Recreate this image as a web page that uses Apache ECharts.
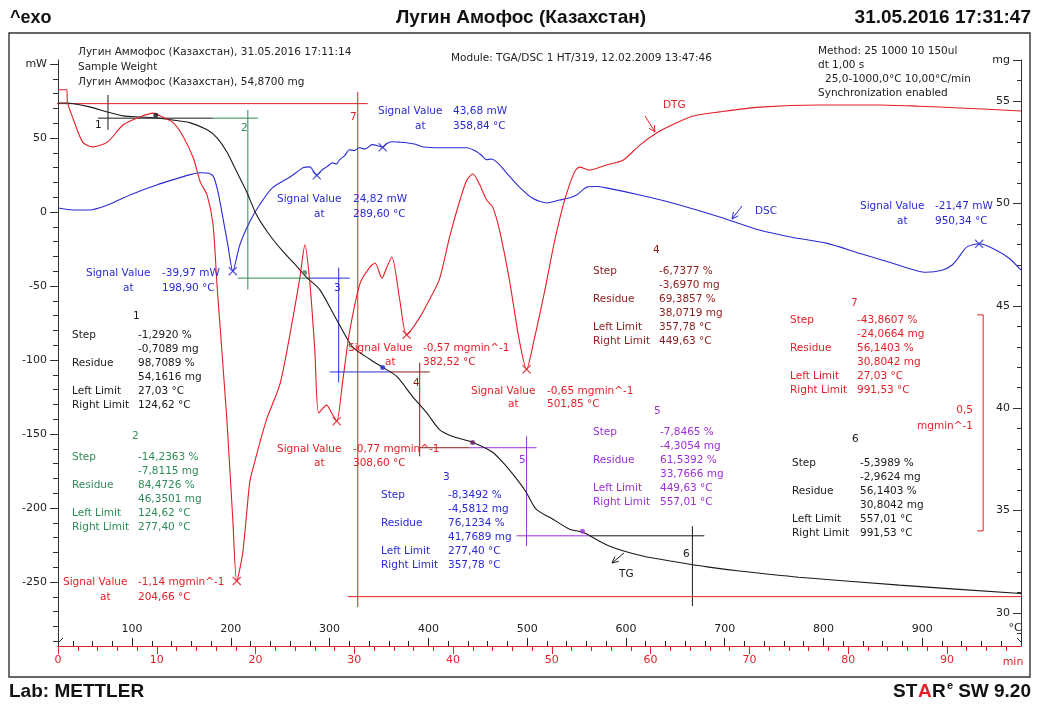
<!DOCTYPE html>
<html><head><meta charset="utf-8">
<script src="https://cdn.jsdelivr.net/npm/echarts@6/dist/echarts.min.js"></script>
<style>html,body{margin:0;padding:0;background:#fff}#c{width:1039px;height:704px}</style>
</head><body><div id="c"></div>
<script>
// ---------- axis ticks / labels ----------
const tempTicks = [100, 200, 300, 400, 500, 600, 700, 800, 900];
const timeTicks = [0, 10, 20, 30, 40, 50, 60, 70, 80, 90];
const mwTicks = [-250, -200, -150, -100, -50, 0, 50, 100];
const mgTicks = [30, 35, 40, 45, 50, 55, 57];
const tempMinor = [], timeMinor = [], mwMinor = [], mgMinor = [];
for (let v = 40; v <= 980; v += 20) if (v % 100) tempMinor.push(v);
for (let v = 2; v <= 96; v += 2) if (v % 10) timeMinor.push(v);
for (let v = -290; v <= 90; v += 10) if (v % 50) mwMinor.push(v);
for (let v = 29; v <= 56; v += 1) if (v % 5) mgMinor.push(v);

// ---------- curves: [temperature °C, value] ----------
const dsc = [[25,2.7],[40,1.4],[57,1.4],[75,4.7],[91,9.5],[108,14.2],[125,18.3],[141,21.7],[158,25.1],[169,26.5],[176,26.4],[182,24.4],[187,13.6],[192,-4.1],[197,-22.4],[202,-39.97],[209,-22.4],[219,-6.8],[229,4.7],[242,16.3],[260,23.7],[266,26.5],[273,29.9],[280,30.5],[287,24.82],[293,28.9],[297,30.5],[303,33.2],[307,32.5],[310,35.3],[315,37.9],[320,42.1],[325,41.5],[330,43.4],[336,42.6],[343,45.5],[348,44.9],[353.7,43.68],[358,46.3],[363,47.5],[370,47.2],[378,46.8],[386,45.9],[394,44.1],[402,43.6],[411,43.4],[425,43.4],[439,43.4],[449,40.7],[454,38.2],[459,35.3],[464,35.8],[469,33.9],[474,30.5],[479,26.5],[492,17.0],[505,9.5],[520,6.1],[533,8.1],[543,9.6],[550,11.5],[556,14.8],[561,17.0],[570,17.2],[580,16.3],[614,11.5],[647,6.1],[695,-3.4],[735,-12.2],[768,-17.0],[803,-21.0],[836,-27.8],[870,-34.6],[904,-40.7],[920,-39.3],[930,-36.0],[937,-30.5],[945,-23.7],[957.6,-21.47],[971,-24.4],[988,-31.2],[1000,-39.3]];
const tg = [[25,54.9],[34,54.9],[57,54.71],[75,54.46],[91,54.27],[108,54.22],[125,54.17],[141,54.07],[159,53.93],[176,53.59],[186,53.2],[196,52.51],[206,51.54],[216,50.57],[226,49.44],[239,48.47],[253,47.64],[267,46.91],[277,46.37],[290,45.79],[307,44.33],[323,43.01],[341,42.38],[354,41.99],[368,41.55],[384,40.57],[398,39.8],[411,38.97],[424,38.63],[445,38.33],[465,37.85],[479,37.16],[492,36.38],[499,35.9],[509,35.07],[526,34.58],[543,34.09],[556,33.95],[583,33.27],[617,32.78],[651,32.49],[684,32.24],[715,32.05],[775,31.75],[877,31.36],[1000,30.95]];
const dtg = [[25,-0.003],[34,-0.003],[34.5,-0.031],[40,-0.068],[50,-0.124],[60,-0.135],[75,-0.124],[91,-0.084],[108,-0.066],[121,-0.057],[131,-0.066],[141,-0.078],[151,-0.108],[162,-0.161],[169,-0.216],[176,-0.247],[182,-0.316],[186,-0.455],[196,-0.767],[202,-0.999],[206,-1.14],[212,-1.075],[219,-0.913],[222,-0.883],[236,-0.767],[250,-0.682],[263,-0.529],[270,-0.436],[275,-0.362],[280,-0.45],[285,-0.605],[289,-0.751],[297,-0.733],[302,-0.751],[307.2,-0.77],[313,-0.682],[320,-0.566],[331,-0.45],[341,-0.413],[346,-0.404],[353,-0.439],[358,-0.413],[363,-0.39],[371,-0.489],[378,-0.57],[391,-0.531],[401,-0.489],[411,-0.443],[422,-0.339],[432,-0.258],[439,-0.212],[445,-0.198],[452,-0.223],[459,-0.258],[465,-0.274],[472,-0.328],[482,-0.443],[492,-0.582],[499.4,-0.65],[507,-0.582],[518,-0.466],[528,-0.351],[538,-0.258],[548,-0.193],[553,-0.182],[563,-0.189],[580,-0.177],[597,-0.166],[614,-0.131],[631,-0.103],[647,-0.084],[667,-0.064],[695,-0.054],[735,-0.043],[796,-0.038],[857,-0.038],[897,-0.041],[938,-0.045],[1000,-0.052]];

// ---------- evaluated points ----------
const dscPeaks = [[202,-39.97],[287,24.82],[353.7,43.68],[957.6,-21.47]];
const dtgPeaks = [[206,-1.14],[307.2,-0.77],[378,-0.57],[499.4,-0.65]];
const stepDotsBlack = [[124,54.3]];
const stepDotsGreen = [[274.8,46.62]];
const stepDotsBlue = [[353.7,41.99]];
const stepDotsMaroon = [[444.8,38.33]];
const stepDotsPurple = [[556,33.99]];

// ---------- step construction lines (T °C, mg) ----------
const step1Segs = [[[65.5,54.16],[181.8,54.16]], [[75.6,55.29],[75.6,53.59]]];
const step2Segs = [[[181.8,54.16],[227.3,54.16]], [[217.2,54.56],[217.2,45.79]], [[207.1,46.35],[279.9,46.35]]];
const step3Segs = [[[279.9,46.35],[320.4,46.35]], [[309.2,46.86],[309.2,41.26]], [[300.1,41.77],[360.8,41.77]]];
const step4Segs = [[[360.8,41.77],[401.3,41.77]], [[391.2,42.23],[391.2,37.65]], [[391.2,38.07],[441.7,38.07]]];
const step5Segs = [[[441.7,38.07],[509.5,38.07]], [[499.4,38.63],[499.4,33.27]], [[489.3,33.77],[563.1,33.77]]];
const step6Segs = [[[563.1,33.77],[679.4,33.77]], [[667.3,34.24],[667.3,30.34]]];
const step7Segs = [[[14.9,54.87],[338.6,54.87]], [[328.5,55.44],[328.5,30.29]], [[318.3,30.8],[1001,30.8]]];
const dtgScaleBar = [[955.6,-0.524],[961.7,-0.524],[961.7,-1.024],[955.6,-1.024]];

// ---------- colors / fonts ----------
const RED = '#e41e26', BLUE = '#2a2ad4', GREEN = '#2e8b57', PURPLE = '#9b30d9', MAROON = '#8e1b1b', BLACK = '#1a1a1a';
const FONT = '"DejaVu Sans", Verdana, sans-serif';
const HFONT = '"Liberation Sans", Arial, sans-serif';

const series = [];
function segs(list, color, yIdx) {
  list.forEach(p => series.push({type:'line', xAxisIndex:0, yAxisIndex:yIdx, data:p, symbol:'none', showSymbol:false,
    clip:false, silent:true, animation:false, lineStyle:{color, width:1}, z:3}));
}
segs(step1Segs, BLACK, 2); segs(step2Segs, GREEN, 2); segs(step3Segs, BLUE, 2);
segs(step4Segs, MAROON, 2); segs(step5Segs, PURPLE, 2); segs(step6Segs, BLACK, 2); segs(step7Segs, RED, 2);
segs([dtgScaleBar], RED, 4);

function curve(data, color, yIdx) {
  series.push({type:'line', xAxisIndex:0, yAxisIndex:yIdx, data, symbol:'none', showSymbol:false, smooth:0.25,
    clip:false, silent:true, animation:false, lineStyle:{color, width:1.1}, z:5});
}
curve(dsc, BLUE, 0); curve(tg, BLACK, 2); curve(dtg, RED, 4);

const XSYM = 'path://M1,0 L5,4 L9,0 L10,1 L6,5 L10,9 L9,10 L5,6 L1,10 L0,9 L4,5 L0,1 Z';
function marks(data, color, yIdx, sym, size) {
  series.push({type:'scatter', xAxisIndex:0, yAxisIndex:yIdx, data, symbol:sym, symbolSize:size, silent:true,
    animation:false, itemStyle:{color}, z:6});
}
marks(dscPeaks, BLUE, 0, XSYM, 9); marks(dtgPeaks, RED, 4, XSYM, 9);
marks(stepDotsBlack, BLACK, 2, 'circle', 5); marks(stepDotsGreen, GREEN, 2, 'circle', 5);
marks(stepDotsBlue, BLUE, 2, 'circle', 5); marks(stepDotsMaroon, '#6a1b6a', 2, 'circle', 5);
marks(stepDotsPurple, PURPLE, 2, 'circle', 5);

// ---------- axes ----------
function xAx(o) {
  return Object.assign({type:'value', position:'bottom', min:25, max:1000, splitLine:{show:false},
    axisLine:{show:false, onZero:false}, axisTick:{show:false}, axisLabel:{show:false}}, o);
}
function yAx(o) {
  return Object.assign({type:'value', splitLine:{show:false}, axisLine:{show:false, onZero:false},
    axisTick:{show:false}, axisLabel:{show:false}}, o);
}
const tickFont = {fontFamily:FONT, fontSize:11};
const xAxis = [
  xAx({axisTick:{show:true, inside:true, length:8, customValues:tempTicks, lineStyle:{color:'#222'}},
       axisLabel:Object.assign({show:true, inside:true, margin:11, color:'#222', customValues:tempTicks}, tickFont)}),
  xAx({axisTick:{show:true, inside:true, length:5, customValues:tempMinor, lineStyle:{color:'#222'}}}),
  xAx({min:0, max:97.5, axisLine:{show:true, onZero:false, lineStyle:{color:RED, width:1.2}},
       axisTick:{show:true, inside:false, length:8, customValues:timeTicks, lineStyle:{color:RED}},
       axisLabel:Object.assign({show:true, margin:9, color:RED, customValues:timeTicks}, tickFont)}),
  xAx({min:0, max:97.5, axisTick:{show:true, inside:false, length:5, customValues:timeMinor, lineStyle:{color:RED}}})
];
const yAxis = [
  yAx({position:'left', min:-293.2, max:102.7, axisLine:{show:true, onZero:false, lineStyle:{color:'#333'}},
       axisTick:{show:true, inside:false, length:8, customValues:mwTicks, lineStyle:{color:'#333'}},
       axisLabel:Object.assign({show:true, margin:11, color:'#222', customValues:mwTicks,
         formatter:v => v === 100 ? 'mW' : String(v)}, tickFont)}),
  yAx({position:'left', min:-293.2, max:102.7,
       axisTick:{show:true, inside:false, length:5, customValues:mwMinor, lineStyle:{color:'#333'}}}),
  yAx({position:'right', min:28.39, max:57, axisLine:{show:true, onZero:false, lineStyle:{color:'#333'}},
       axisTick:{show:true, inside:true, length:8, customValues:mgTicks, lineStyle:{color:'#333'}},
       axisLabel:Object.assign({show:true, inside:true, margin:11, color:'#222', customValues:mgTicks,
         formatter:v => v === 57 ? 'mg' : String(v)}, tickFont)}),
  yAx({position:'right', min:28.39, max:57,
       axisTick:{show:true, inside:true, length:4, customValues:mgMinor, lineStyle:{color:'#333'}}}),
  yAx({position:'right', min:-1.2905, max:0.066, show:false})
];

// ---------- annotation texts ----------
function txt(x, y, s, color, font, align) {
  return {type:'text', x, y, z:100, silent:true,
    style:{text:s, fill:color || '#222', font:font || ('10.5px ' + FONT), textAlign:align || 'left', textVerticalAlign:'middle'}};
}
function signal(x1, x2, y1, y2, val, temp, color) {
  return [txt(x1, y1, 'Signal Value', color), txt(x2, y1, val, color), txt(x1 + 37, y2, 'at', color), txt(x2, y2, temp, color)];
}
function block(tx, ty, title, lx, vx, y0, rows, color) {
  const out = [txt(tx, ty, title, color)];
  rows.forEach((r, i) => { const y = y0 + i * 14.1; if (r[0]) out.push(txt(lx, y, r[0], color)); out.push(txt(vx, y, r[1], color)); });
  return out;
}
const rows1 = [['Step','-1,2920 %'],['','-0,7089 mg'],['Residue','98,7089 %'],['','54,1616 mg'],['Left Limit','27,03 °C'],['Right Limit','124,62 °C']];
const rows2 = [['Step','-14,2363 %'],['','-7,8115 mg'],['Residue','84,4726 %'],['','46,3501 mg'],['Left Limit','124,62 °C'],['Right Limit','277,40 °C']];
const rows3 = [['Step','-8,3492 %'],['','-4,5812 mg'],['Residue','76,1234 %'],['','41,7689 mg'],['Left Limit','277,40 °C'],['Right Limit','357,78 °C']];
const rows4 = [['Step','-6,7377 %'],['','-3,6970 mg'],['Residue','69,3857 %'],['','38,0719 mg'],['Left Limit','357,78 °C'],['Right Limit','449,63 °C']];
const rows5 = [['Step','-7,8465 %'],['','-4,3054 mg'],['Residue','61,5392 %'],['','33,7666 mg'],['Left Limit','449,63 °C'],['Right Limit','557,01 °C']];
const rows6 = [['Step','-5,3989 %'],['','-2,9624 mg'],['Residue','56,1403 %'],['','30,8042 mg'],['Left Limit','557,01 °C'],['Right Limit','991,53 °C']];
const rows7 = [['Step','-43,8607 %'],['','-24,0664 mg'],['Residue','56,1403 %'],['','30,8042 mg'],['Left Limit','27,03 °C'],['Right Limit','991,53 °C']];

function line(x1, y1, x2, y2, color, w) {
  return {type:'line', z:100, silent:true, shape:{x1, y1, x2, y2}, style:{stroke:color, lineWidth:w || 1}};
}
function arrow(x1, y1, x2, y2, color) {
  const a = Math.atan2(y2 - y1, x2 - x1), L = 7, s = 0.45;
  return [line(x1, y1, x2, y2, color),
    line(x2, y2, x2 - L * Math.cos(a - s), y2 - L * Math.sin(a - s), color),
    line(x2, y2, x2 - L * Math.cos(a + s), y2 - L * Math.sin(a + s), color)];
}
const HB = 'bold 19px ' + HFONT;
const graphic = [
  {type:'rect', z:90, silent:true, shape:{x:9, y:33, width:1021, height:644}, style:{fill:'none', stroke:'#333', lineWidth:1.4}},
  txt(10, 18, '^exo', '#111', 'bold 18px ' + HFONT),
  txt(521, 18, 'Лугин Амофос (Казахстан)', '#111', HB, 'center'),
  txt(1031, 18, '31.05.2016 17:31:47', '#111', HB, 'right'),
  txt(9, 692, 'Lab: METTLER', '#111', HB),
  txt(893, 692, 'ST', '#111', HB), txt(918, 692, 'A', RED, HB), txt(932, 692, 'R', '#111', HB),
  txt(947, 686, 'e', '#111', 'bold 11px ' + HFONT), txt(1031, 692, 'SW 9.20', '#111', HB, 'right'),
  txt(78, 52, 'Лугин Аммофос (Казахстан), 31.05.2016 17:11:14'),
  txt(78, 67, 'Sample Weight'),
  txt(78, 82, 'Лугин Аммофос (Казахстан), 54,8700 mg'),
  txt(451, 58, 'Module: TGA/DSC 1 HT/319, 12.02.2009 13:47:46'),
  txt(818, 51, 'Method: 25 1000 10 150ul'),
  txt(818, 65, 'dt 1,00 s'),
  txt(825, 79, '25,0-1000,0°C 10,00°C/min'),
  txt(818, 93, 'Synchronization enabled'),
  txt(1015, 628, '°C', '#222', '11px ' + FONT, 'center'),
  txt(1013, 662, 'min', RED, '11px ' + FONT, 'center'),
  txt(95, 125, '1', BLACK), txt(241, 128, '2', GREEN), txt(334, 288, '3', BLUE), txt(413, 383, '4', MAROON),
  txt(519, 460, '5', PURPLE), txt(683, 554, '6', BLACK), txt(350, 117, '7', RED),
  txt(663, 105, 'DTG', RED), txt(755, 211, 'DSC', BLUE), txt(619, 574, 'TG', BLACK),
  txt(973, 410, '0,5', RED, null, 'right'), txt(973, 426, 'mgmin^-1', RED, null, 'right'),
  line(58, 643, 63, 638, '#333'), line(1017, 638, 1022, 643, '#333')
].concat(
  arrow(645, 116, 655, 132, RED), arrow(742, 206, 732, 219, BLUE), arrow(624, 553, 612, 563, BLACK),
  signal(378, 453, 111, 126, '43,68 mW', '358,84 °C', BLUE),
  signal(277, 353, 199, 214, '24,82 mW', '289,60 °C', BLUE),
  signal(86, 162, 273, 288, '-39,97 mW', '198,90 °C', BLUE),
  signal(860, 935, 206, 221, '-21,47 mW', '950,34 °C', BLUE),
  signal(63, 138, 582, 597, '-1,14 mgmin^-1', '204,66 °C', RED),
  signal(277, 353, 449, 463, '-0,77 mgmin^-1', '308,60 °C', RED),
  signal(348, 423, 348, 362, '-0,57 mgmin^-1', '382,52 °C', RED),
  signal(471, 547, 391, 404, '-0,65 mgmin^-1', '501,85 °C', RED),
  block(133, 316, '1', 72, 138, 335, rows1, BLACK),
  block(132, 436, '2', 72, 138, 457, rows2, GREEN),
  block(443, 477, '3', 381, 448, 495, rows3, BLUE),
  block(653, 250, '4', 593, 659, 271, rows4, MAROON),
  block(654, 411, '5', 593, 660, 432, rows5, PURPLE),
  block(851, 303, '7', 790, 857, 320, rows7, RED),
  block(852, 439, '6', 792, 860, 463, rows6, BLACK)
);

const chart = echarts.init(document.getElementById('c'));
chart.setOption({
  animation:false,
  backgroundColor:'#fff',
  grid:{left:58, right:18, top:60, bottom:58, containLabel:false, outerBoundsMode:'none'},
  xAxis, yAxis, series, graphic
});
</script></body></html>
